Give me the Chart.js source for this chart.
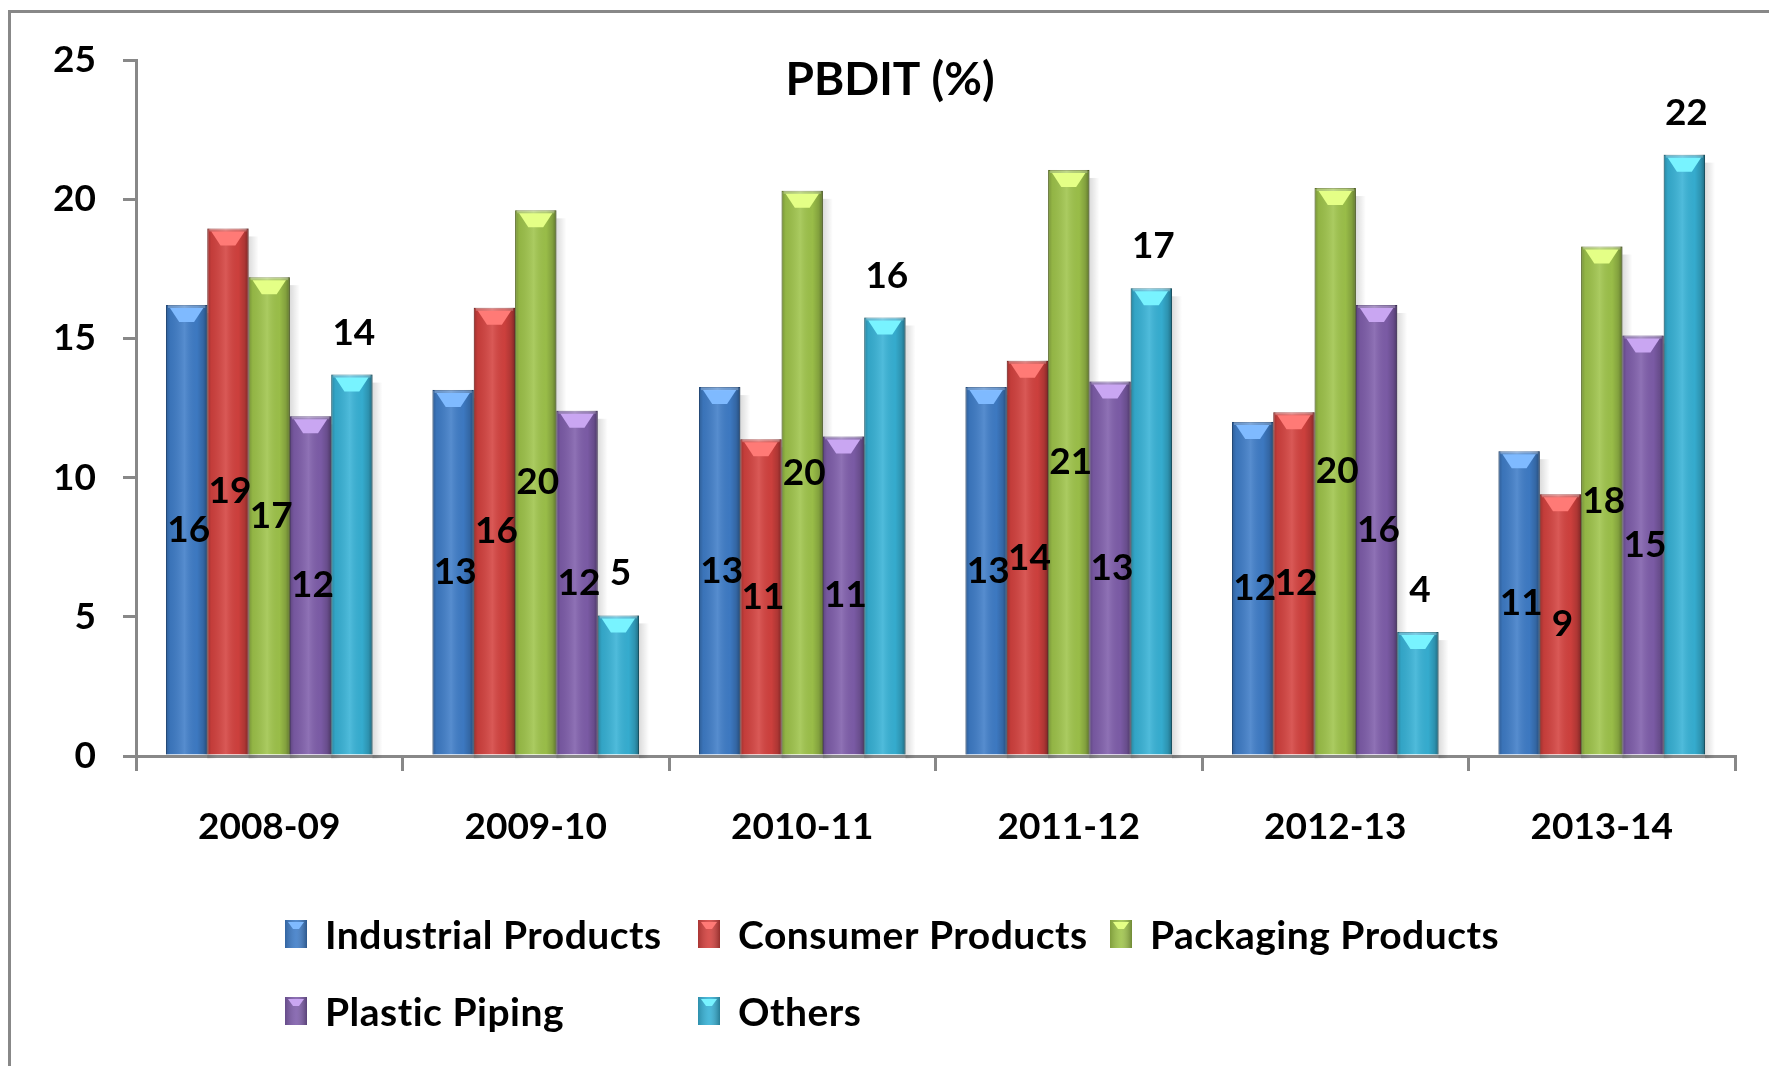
<!DOCTYPE html>
<html>
<head>
<meta charset="utf-8">
<script src="https://cdn.jsdelivr.net/npm/chart.js@4"></script>
<style>
  html, body { margin: 0; padding: 0; background: #fff; }
  #chart { display: block; }
</style>
</head>
<body>
<canvas id="chart" width="1769" height="1066"></canvas>
<script>
// PBDIT (%) by segment
const years = ['2008-09', '2009-10', '2010-11', '2011-12', '2012-13', '2013-14'];
const industrialProducts = [16.2, 13.15, 13.25, 13.25, 12.0, 10.95];
const consumerProducts = [18.95, 16.1, 11.38, 14.2, 12.35, 9.4];
const packagingProducts = [17.2, 19.6, 20.3, 21.05, 20.4, 18.3];
const plasticPiping = [12.2, 12.4, 11.48, 13.45, 16.2, 15.1];
const others = [13.7, 5.05, 15.75, 16.8, 4.45, 21.6];
const yTicks = [0, 5, 10, 15, 20, 25];

const FONT = 'Lato, "DejaVu Sans", sans-serif';

// 3D cylinder look: shadow behind each bar
const barShadow = {
  id: 'barShadow',
  beforeDatasetsDraw(chart) {
    const ctx = chart.ctx;
    chart.data.datasets.forEach((ds, di) => {
      chart.getDatasetMeta(di).data.forEach(el => {
        const p = el.getProps(['x', 'y', 'base', 'width'], true);
        const x0 = p.x + p.width / 2;
        const g = ctx.createLinearGradient(x0, 0, x0 + 10, 0);
        g.addColorStop(0, 'rgba(0,0,0,0.14)');
        g.addColorStop(1, 'rgba(0,0,0,0)');
        ctx.save();
        ctx.fillStyle = g;
        ctx.fillRect(x0, p.y + 8, 10, p.base - p.y - 4);
        ctx.restore();
      });
    });
  }
};

// shading over the bars and the lighter cap at the top
const barShading = {
  id: 'barShading',
  afterDatasetsDraw(chart) {
    const ctx = chart.ctx;
    chart.data.datasets.forEach((ds, di) => {
      chart.getDatasetMeta(di).data.forEach(el => {
        const p = el.getProps(['x', 'y', 'base', 'width'], true);
        const l = p.x - p.width / 2;
        const r = p.x + p.width / 2;
        const g = ctx.createLinearGradient(l, 0, r, 0);
        g.addColorStop(0, 'rgba(0,0,0,0.25)');
        g.addColorStop(0.1, 'rgba(0,0,0,0.08)');
        g.addColorStop(0.45, 'rgba(255,255,255,0.12)');
        g.addColorStop(0.75, 'rgba(0,0,0,0.04)');
        g.addColorStop(0.9, 'rgba(0,0,0,0.18)');
        g.addColorStop(1, 'rgba(0,0,0,0.4)');
        ctx.save();
        ctx.fillStyle = g;
        ctx.fillRect(l, p.y, r - l, p.base - p.y);
        // top cap
        ctx.fillStyle = ds.capColor;
        ctx.beginPath();
        ctx.moveTo(l + 4, p.y + 3);
        ctx.lineTo(r - 4, p.y + 3);
        ctx.lineTo(p.x + p.width * 0.18, p.y + 17);
        ctx.lineTo(p.x - p.width * 0.18, p.y + 17);
        ctx.closePath();
        ctx.fill();
        ctx.fillStyle = 'rgba(255,255,255,0.25)';
        ctx.fillRect(l + 2, p.y, r - l - 4, 3);
        ctx.restore();
      });
    });
  }
};

// value labels: centred in the bar, or above it for "Others"
const valueLabels = {
  id: 'valueLabels',
  afterDatasetsDraw(chart) {
    const ctx = chart.ctx;
    ctx.save();
    ctx.font = 'bold 37px ' + FONT;
    ctx.fillStyle = '#000';
    ctx.textAlign = 'center';
    ctx.textBaseline = 'alphabetic';
    chart.data.datasets.forEach((ds, di) => {
      chart.getDatasetMeta(di).data.forEach((el, i) => {
        const p = el.getProps(['x', 'y', 'base'], true);
        const txt = String(Math.round(ds.data[i]));
        const y = ds.labelAt === 'end' ? p.y - 30 : (p.y + p.base) / 2 + 12;
        ctx.fillText(txt, p.x + 2, y);
      });
    });
    ctx.restore();
  }
};

const frameTitleLegend = {
  id: 'frameTitleLegend',
  beforeDraw(chart) {
    const ctx = chart.ctx;
    ctx.save();
    ctx.fillStyle = '#fff';
    ctx.fillRect(0, 0, chart.width, chart.height);
    ctx.strokeStyle = '#888';
    ctx.lineWidth = 3;
    ctx.strokeRect(9.5, 11.5, chart.width + 20, chart.height + 20);
    ctx.restore();
  },
  afterDraw(chart) {
    const ctx = chart.ctx;
    ctx.save();
    ctx.fillStyle = '#000';
    ctx.font = 'bold 46px ' + FONT;
    ctx.textAlign = 'center';
    ctx.textBaseline = 'alphabetic';
    ctx.fillText('PBDIT (%)', 890, 95);

    // legend in a 3-column grid
    const cols = [285, 698, 1110];
    const rows = [920, 997];
    ctx.font = 'bold 39px ' + FONT;
    if ('letterSpacing' in ctx) ctx.letterSpacing = '0.5px';
    ctx.textAlign = 'left';
    chart.data.datasets.forEach((ds, di) => {
      const bx = cols[di % 3];
      const by = rows[Math.floor(di / 3)];
      ctx.fillStyle = ds.backgroundColor;
      ctx.fillRect(bx, by, 22, 28);
      const g = ctx.createLinearGradient(bx, 0, bx + 22, 0);
      g.addColorStop(0, 'rgba(0,0,0,0.2)');
      g.addColorStop(0.5, 'rgba(255,255,255,0.1)');
      g.addColorStop(1, 'rgba(0,0,0,0.3)');
      ctx.fillStyle = g;
      ctx.fillRect(bx, by, 22, 28);
      ctx.fillStyle = ds.capColor;
      ctx.beginPath();
      ctx.moveTo(bx + 3, by + 2);
      ctx.lineTo(bx + 19, by + 2);
      ctx.lineTo(bx + 14, by + 9);
      ctx.lineTo(bx + 8, by + 9);
      ctx.closePath();
      ctx.fill();
      ctx.fillStyle = '#000';
      ctx.fillText(ds.label, bx + 40, by + 29);
    });
    ctx.restore();
  }
};

new Chart(document.getElementById('chart'), {
  type: 'bar',
  data: {
    labels: years,
    datasets: [
      { label: 'Industrial Products', data: industrialProducts, backgroundColor: '#3f7dc8', borderColor: '#2f5f9a', capColor: '#7fbaff', labelAt: 'center' },
      { label: 'Consumer Products', data: consumerProducts, backgroundColor: '#d4423f', borderColor: '#a23330', capColor: '#ff7a76', labelAt: 'center' },
      { label: 'Packaging Products', data: packagingProducts, backgroundColor: '#9fc44b', borderColor: '#778f36', capColor: '#e4ff86', labelAt: 'center' },
      { label: 'Plastic Piping', data: plasticPiping, backgroundColor: '#7f5eab', borderColor: '#5b4282', capColor: '#c9a6f2', labelAt: 'center' },
      { label: 'Others', data: others, backgroundColor: '#37b2d6', borderColor: '#2a8199', capColor: '#78f3ff', labelAt: 'end' }
    ]
  },
  options: {
    responsive: false,
    animation: false,
    devicePixelRatio: 1,
    layout: { padding: { top: 60, right: 34, left: 0, bottom: 0 } },
    datasets: {
      bar: {
        categoryPercentage: 0.775,
        barPercentage: 1,
        borderWidth: 1
      }
    },
    plugins: {
      legend: { display: false },
      title: { display: false },
      tooltip: { enabled: false }
    },
    scales: {
      x: {
        afterFit(scale) { scale.height = 310; },
        grid: { drawOnChartArea: false, drawTicks: true, tickLength: 15, color: '#888', lineWidth: 3, offset: true },
        border: { display: true, color: '#888', width: 3 },
        ticks: { color: '#000', padding: 34, font: { family: FONT, size: 37, weight: 'bold' } }
      },
      y: {
        min: 0,
        max: 25,
        afterFit(scale) { scale.width = 136; },
        afterBuildTicks(scale) { scale.ticks = yTicks.map(v => ({ value: v })); },
        grid: { drawOnChartArea: false, drawTicks: true, tickLength: 13, color: '#888', lineWidth: 3 },
        border: { display: true, color: '#888', width: 3 },
        ticks: { color: '#000', padding: 27, font: { family: FONT, size: 37, weight: 'bold' } }
      }
    }
  },
  plugins: [frameTitleLegend, barShadow, barShading, valueLabels]
});
</script>
</body>
</html>
